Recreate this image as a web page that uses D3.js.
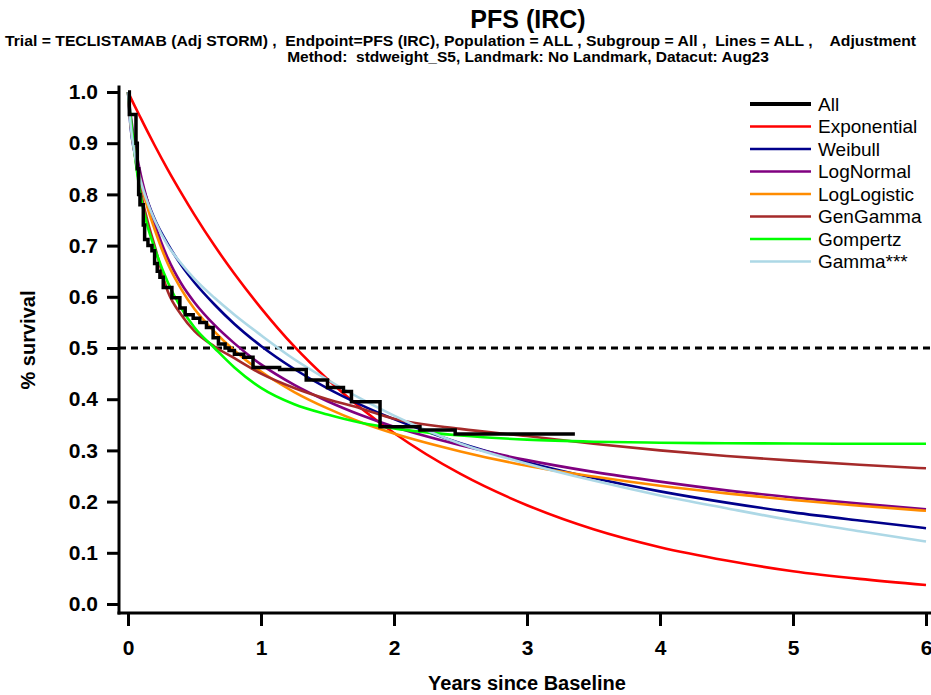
<!DOCTYPE html>
<html><head><meta charset="utf-8">
<script src="https://cdn.jsdelivr.net/npm/d3@7"></script>
<style>body{margin:0;background:#fff}svg{display:block}</style>
</head><body><svg id="c" width="931" height="695"></svg>
<script>
// ---- data ----
const titleText = "PFS (IRC)";
const subtitle1 = "Trial = TECLISTAMAB (Adj STORM) ,  Endpoint=PFS (IRC), Population = ALL , Subgroup = All ,  Lines = ALL ,    Adjustment";
const subtitle2 = "Method:  stdweight_S5, Landmark: No Landmark, Datacut: Aug23";
const xLabel = "Years since Baseline";
const yLabel = "% survival";
const xTicks = [0, 1, 2, 3, 4, 5, 6];
const yTicks = [0, 0.1, 0.2, 0.3, 0.4, 0.5, 0.6, 0.7, 0.8, 0.9, 1.0];
const refLine = 0.5;

const kmTimes = [0, 0.01, 0.06, 0.07, 0.08, 0.09, 0.115, 0.125, 0.15, 0.18, 0.20, 0.22, 0.24, 0.265, 0.33, 0.39, 0.43, 0.49, 0.54, 0.59, 0.64, 0.68, 0.73, 0.76, 0.80, 0.87, 0.94, 1.14, 1.34, 1.50, 1.62, 1.68, 1.895, 2.195, 2.46, 3.36];
const kmSurv  = [1.0, 0.956, 0.90, 0.85, 0.80, 0.78, 0.74, 0.712, 0.70, 0.69, 0.665, 0.65, 0.638, 0.618, 0.598, 0.578, 0.565, 0.558, 0.55, 0.54, 0.52, 0.508, 0.50, 0.495, 0.488, 0.482, 0.462, 0.458, 0.4375, 0.423, 0.415, 0.395, 0.346, 0.34, 0.332, 0.332];

const fitTimes    = [0, 0.02, 0.05, 0.1, 0.15, 0.2, 0.3, 0.4, 0.5, 0.65, 0.8, 1.0, 1.25, 1.5, 1.75, 2.0, 2.5, 3.0, 3.5, 4.0, 4.5, 5.0, 5.5, 6.0];
const exponential = [1.0, 0.989, 0.973, 0.947, 0.921, 0.896, 0.848, 0.803, 0.760, 0.700, 0.645, 0.578, 0.503, 0.439, 0.383, 0.334, 0.254, 0.193, 0.146, 0.111, 0.085, 0.064, 0.049, 0.037];
const weibull     = [1.0, 0.93, 0.88, 0.825, 0.785, 0.752, 0.703, 0.662, 0.628, 0.585, 0.547, 0.504, 0.459, 0.421, 0.389, 0.361, 0.314, 0.277, 0.246, 0.220, 0.198, 0.179, 0.163, 0.148];
const lognormal   = [1.0, 0.956, 0.901, 0.834, 0.784, 0.743, 0.675, 0.626, 0.589, 0.545, 0.509, 0.468, 0.428, 0.396, 0.369, 0.346, 0.310, 0.281, 0.258, 0.239, 0.222, 0.208, 0.196, 0.185];
const loglogistic = [1.0, 0.937, 0.883, 0.820, 0.771, 0.732, 0.664, 0.615, 0.576, 0.532, 0.495, 0.454, 0.414, 0.382, 0.355, 0.333, 0.298, 0.270, 0.249, 0.231, 0.216, 0.203, 0.192, 0.182];
const gengamma    = [1.0, 0.94, 0.88, 0.80, 0.745, 0.70, 0.61, 0.565, 0.533, 0.503, 0.48, 0.45, 0.422, 0.400, 0.382, 0.362, 0.342, 0.328, 0.313, 0.300, 0.289, 0.280, 0.272, 0.265];
const gompertz    = [1.0, 0.95, 0.88, 0.79, 0.735, 0.695, 0.628, 0.578, 0.54, 0.50, 0.462, 0.422, 0.39, 0.37, 0.354, 0.343, 0.329, 0.321, 0.317, 0.315, 0.314, 0.3135, 0.313, 0.313];
const gammaFit    = [1.0, 0.935, 0.88, 0.822, 0.782, 0.75, 0.70, 0.665, 0.635, 0.598, 0.565, 0.525, 0.478, 0.438, 0.401, 0.368, 0.313, 0.274, 0.241, 0.212, 0.187, 0.163, 0.142, 0.122];

const seriesNames  = ["All", "Exponential", "Weibull", "LogNormal", "LogLogistic", "GenGamma", "Gompertz", "Gamma***"];
const seriesColors = ["#000000", "#ff0000", "#00008b", "#800080", "#ff8c00", "#a52a2a", "#00ff00", "#add8e6"];
const fitValues = [exponential, weibull, lognormal, loglogistic, gengamma, gompertz, gammaFit];

// ---- drawing ----
const svg = d3.select("#c");
const F = "'Liberation Sans', Arial, Helvetica, sans-serif";
svg.append("rect").attr("width", 931).attr("height", 695).attr("fill", "#ffffff");

const x = d3.scaleLinear().domain([0, 6]).range([128, 926]);
const y = d3.scaleLinear().domain([0, 1]).range([604, 92]);
const axisY = x(0) - 9, axisX = y(0) + 9;

// titles
svg.append("text").attr("x", 528).attr("y", 28).attr("text-anchor", "middle")
  .attr("font-family", F).attr("font-weight", "bold").attr("font-size", 25).text(titleText);
svg.append("text").attr("x", 5).attr("y", 46).attr("xml:space", "preserve").style("white-space", "pre")
  .attr("font-family", F).attr("font-weight", "bold").attr("font-size", 15.5)
  .attr("textLength", 911).attr("lengthAdjust", "spacingAndGlyphs").text(subtitle1);
svg.append("text").attr("x", 528).attr("y", 62).attr("text-anchor", "middle").style("white-space", "pre")
  .attr("font-family", F).attr("font-weight", "bold").attr("font-size", 15.5).text(subtitle2);

// axes
const yAx = svg.append("g").attr("transform", `translate(${axisY},0)`)
  .call(d3.axisLeft(y).tickValues(yTicks).tickSize(12).tickPadding(9).tickFormat(d3.format(".1f")));
const xAx = svg.append("g").attr("transform", `translate(0,${axisX})`)
  .call(d3.axisBottom(x).tickValues(xTicks).tickSize(13).tickPadding(14).tickFormat(d3.format("d")));
[yAx, xAx].forEach(g => {
  g.select(".domain").remove();
  g.selectAll(".tick line").attr("stroke", "#000").attr("stroke-width", 3);
  g.selectAll(".tick text").attr("fill", "#000").attr("font-family", F).attr("font-weight", "bold").attr("font-size", 21);
});
svg.append("line").attr("x1", axisY).attr("x2", axisY).attr("y1", y(1) - 5).attr("y2", axisX)
  .attr("stroke", "#000").attr("stroke-width", 3).attr("stroke-linecap", "square");
svg.append("line").attr("x1", axisY).attr("x2", 931).attr("y1", axisX).attr("y2", axisX)
  .attr("stroke", "#000").attr("stroke-width", 3).attr("stroke-linecap", "square");

// axis labels
svg.append("text").attr("x", 527).attr("y", 690).attr("text-anchor", "middle")
  .attr("font-family", F).attr("font-weight", "bold").attr("font-size", 20).text(xLabel);
svg.append("text").attr("transform", "translate(35,340) rotate(-90)").attr("text-anchor", "middle")
  .attr("font-family", F).attr("font-weight", "bold").attr("font-size", 20).text(yLabel);

// reference line
svg.append("line").attr("x1", axisY).attr("x2", 931).attr("y1", y(refLine)).attr("y2", y(refLine))
  .attr("stroke", "#000").attr("stroke-width", 3).attr("stroke-dasharray", "7,5");

// fitted curves
const fitLine = d3.line().x(d => x(d[0])).y(d => y(d[1])).curve(d3.curveMonotoneX);
fitValues.forEach((vals, i) => {
  svg.append("path").datum(fitTimes.map((t, j) => [t, vals[j]]))
    .attr("d", fitLine).attr("fill", "none").attr("stroke", seriesColors[i + 1]).attr("stroke-width", 2.6);
});

// KM step curve
const kmLine = d3.line().x(d => x(d[0])).y(d => y(d[1])).curve(d3.curveStepAfter);
svg.append("path").datum(kmTimes.map((t, j) => [t, kmSurv[j]]))
  .attr("d", kmLine).attr("fill", "none").attr("stroke", "#000").attr("stroke-width", 3.5);

// legend
const lg = svg.append("g").attr("transform", "translate(750,104)");
seriesNames.forEach((n, i) => {
  const r = lg.append("g").attr("transform", `translate(0,${i * 22.5})`);
  r.append("line").attr("x1", 0).attr("x2", 61).attr("y1", 0).attr("y2", 0)
    .attr("stroke", seriesColors[i]).attr("stroke-width", i === 0 ? 4 : 2.6);
  r.append("text").attr("x", 68).attr("y", 0).attr("dy", "0.36em")
    .attr("font-family", F).attr("font-size", 19).attr("fill", "#000").text(n);
});
</script></body></html>
